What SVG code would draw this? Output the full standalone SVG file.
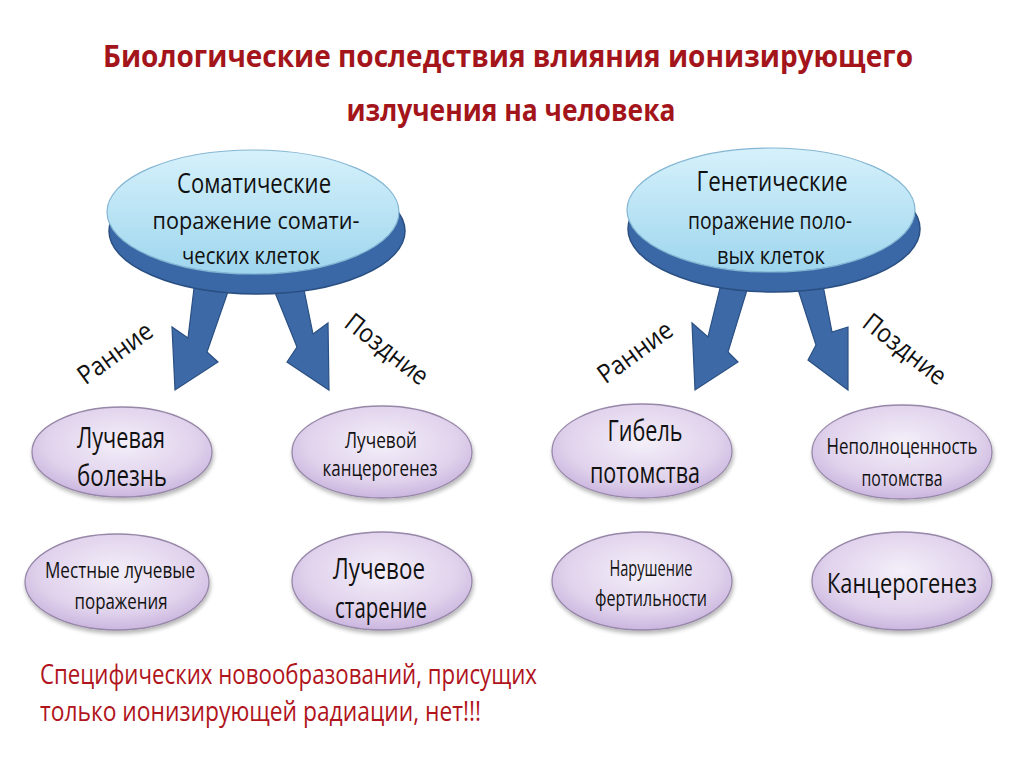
<svg xmlns="http://www.w3.org/2000/svg" width="1024" height="767" viewBox="0 0 1024 767">
<defs>
<linearGradient id="gBlue" x1="0" y1="0" x2="0" y2="1">
<stop offset="0" stop-color="#d6f1fb"/>
<stop offset="1" stop-color="#9ed6ee"/>
</linearGradient>
<radialGradient id="gPurple" cx="0.5" cy="0.4" r="0.6">
<stop offset="0" stop-color="#f4eff9"/>
<stop offset="0.7" stop-color="#e0d2ec"/>
<stop offset="1" stop-color="#cbb6df"/>
</radialGradient>
<filter id="sh" x="-10%" y="-10%" width="120%" height="130%">
<feGaussianBlur in="SourceAlpha" stdDeviation="2"/>
<feOffset dx="1" dy="3"/>
<feComponentTransfer><feFuncA type="linear" slope="0.3"/></feComponentTransfer>
<feMerge><feMergeNode/><feMergeNode in="SourceGraphic"/></feMerge>
</filter>
</defs>
<style>
text{font-family:"Open Sans","Noto Sans","Liberation Sans",sans-serif;fill:#111;text-anchor:middle}
.title{font-weight:bold;font-size:31px;fill:#a3151b}
.note{font-size:27px;fill:#b0141c;text-anchor:start}
.base{fill:#3a68a6;stroke:#2a4f82;stroke-width:1.5}
.top{fill:url(#gBlue);stroke:#84b6d3;stroke-width:1.2}
.arrow{fill:#3d6aa7;stroke:#2a4f82;stroke-width:1.2;stroke-linejoin:miter}
.leaf{fill:url(#gPurple);stroke:#9787a8;stroke-width:1.3;filter:url(#sh)}
.lbl{font-size:26px}
</style>
<rect width="1024" height="767" fill="#ffffff"/>

<g id="title">
<text class="title" x="508" y="67" textLength="810" lengthAdjust="spacingAndGlyphs">Биологические последствия влияния ионизирующего</text>
<text class="title" x="511" y="121" textLength="329" lengthAdjust="spacingAndGlyphs">излучения на человека</text>
</g>

<g id="connectors">
<polygon class="arrow" points="195,280 232,280 207,352 218,362 175,390 172,327 188,338"/>
<polygon class="arrow" points="270,280 302,280 313,334 328,323 329,390 287,362 297,347"/>
<polygon class="arrow" points="722,280 750,280 728,352 738,362 695,390 692,323 708,337"/>
<polygon class="arrow" points="795,280 822,280 832,332 848,327 848,390 808,360 816,345"/>
</g>

<g id="somatic">
<ellipse class="base" cx="257" cy="231" rx="148" ry="63"/>
<ellipse class="top" cx="253" cy="212" rx="146" ry="62"/>
<text x="254" y="193" font-size="28" textLength="154" lengthAdjust="spacingAndGlyphs">Соматические</text>
<text x="256" y="229" font-size="23" textLength="207" lengthAdjust="spacingAndGlyphs">поражение сомати-</text>
<text x="251" y="264" font-size="23" textLength="138" lengthAdjust="spacingAndGlyphs">ческих клеток</text>
</g>

<g id="genetic">
<ellipse class="base" cx="774" cy="229" rx="146" ry="63"/>
<ellipse class="top" cx="771" cy="210" rx="144" ry="62"/>
<text x="772" y="191" font-size="28" textLength="151" lengthAdjust="spacingAndGlyphs">Генетические</text>
<text x="770" y="229" font-size="23" textLength="164" lengthAdjust="spacingAndGlyphs">поражение поло-</text>
<text x="771" y="264" font-size="23" textLength="108" lengthAdjust="spacingAndGlyphs">вых клеток</text>
</g>

<g id="labels">
<text class="lbl" transform="translate(115,353) rotate(-36)" y="9" textLength="86" lengthAdjust="spacingAndGlyphs">Ранние</text>
<text class="lbl" transform="translate(387,349) rotate(38)" y="9" textLength="98" lengthAdjust="spacingAndGlyphs">Поздние</text>
<text class="lbl" transform="translate(635,352) rotate(-36)" y="9" textLength="86" lengthAdjust="spacingAndGlyphs">Ранние</text>
<text class="lbl" transform="translate(905,349) rotate(38)" y="9" textLength="98" lengthAdjust="spacingAndGlyphs">Поздние</text>
</g>

<g id="n-luch-bolezn">
<ellipse class="leaf" cx="122" cy="452" rx="90" ry="45"/>
<text x="121" y="448" font-size="29" textLength="88" lengthAdjust="spacingAndGlyphs">Лучевая</text>
<text x="122" y="486" font-size="29" textLength="90" lengthAdjust="spacingAndGlyphs">болезнь</text>
</g>

<g id="n-luch-kancer">
<ellipse class="leaf" cx="382" cy="452" rx="90" ry="46"/>
<text x="381" y="448" font-size="21" textLength="72" lengthAdjust="spacingAndGlyphs">Лучевой</text>
<text x="380" y="476" font-size="21" textLength="115" lengthAdjust="spacingAndGlyphs">канцерогенез</text>
</g>

<g id="n-mestnye">
<ellipse class="leaf" cx="117" cy="582" rx="92" ry="48"/>
<text x="120" y="578" font-size="21" textLength="150" lengthAdjust="spacingAndGlyphs">Местные лучевые</text>
<text x="121" y="609" font-size="21" textLength="93" lengthAdjust="spacingAndGlyphs">поражения</text>
</g>

<g id="n-starenie">
<ellipse class="leaf" cx="382" cy="581" rx="90" ry="49"/>
<text x="379" y="579" font-size="29" textLength="92" lengthAdjust="spacingAndGlyphs">Лучевое</text>
<text x="381" y="618" font-size="29" textLength="92" lengthAdjust="spacingAndGlyphs">старение</text>
</g>

<g id="n-gibel">
<ellipse class="leaf" cx="642" cy="451" rx="90" ry="47"/>
<text x="645" y="441" font-size="29" textLength="75" lengthAdjust="spacingAndGlyphs">Гибель</text>
<text x="645" y="483" font-size="29" textLength="110" lengthAdjust="spacingAndGlyphs">потомства</text>
</g>

<g id="n-nepolnocennost">
<ellipse class="leaf" cx="902" cy="452" rx="90" ry="47"/>
<text x="902" y="454" font-size="21" textLength="151" lengthAdjust="spacingAndGlyphs">Неполноценность</text>
<text x="902" y="486" font-size="21" textLength="81" lengthAdjust="spacingAndGlyphs">потомства</text>
</g>

<g id="n-fertilnost">
<ellipse class="leaf" cx="642" cy="581" rx="90" ry="49"/>
<text x="651" y="576" font-size="21" textLength="83" lengthAdjust="spacingAndGlyphs">Нарушение</text>
<text x="651" y="606" font-size="21" textLength="112" lengthAdjust="spacingAndGlyphs">фертильности</text>
</g>

<g id="n-kancerogenez">
<ellipse class="leaf" cx="902" cy="581" rx="90" ry="49"/>
<text x="902" y="593" font-size="27" textLength="150" lengthAdjust="spacingAndGlyphs">Канцерогенез</text>
</g>

<g id="note">
<text class="note" x="40" y="684" textLength="497" lengthAdjust="spacingAndGlyphs">Специфических новообразований, присущих</text>
<text class="note" x="40" y="721" textLength="441" lengthAdjust="spacingAndGlyphs">только ионизирующей радиации, нет!!!</text>
</g>
</svg>
